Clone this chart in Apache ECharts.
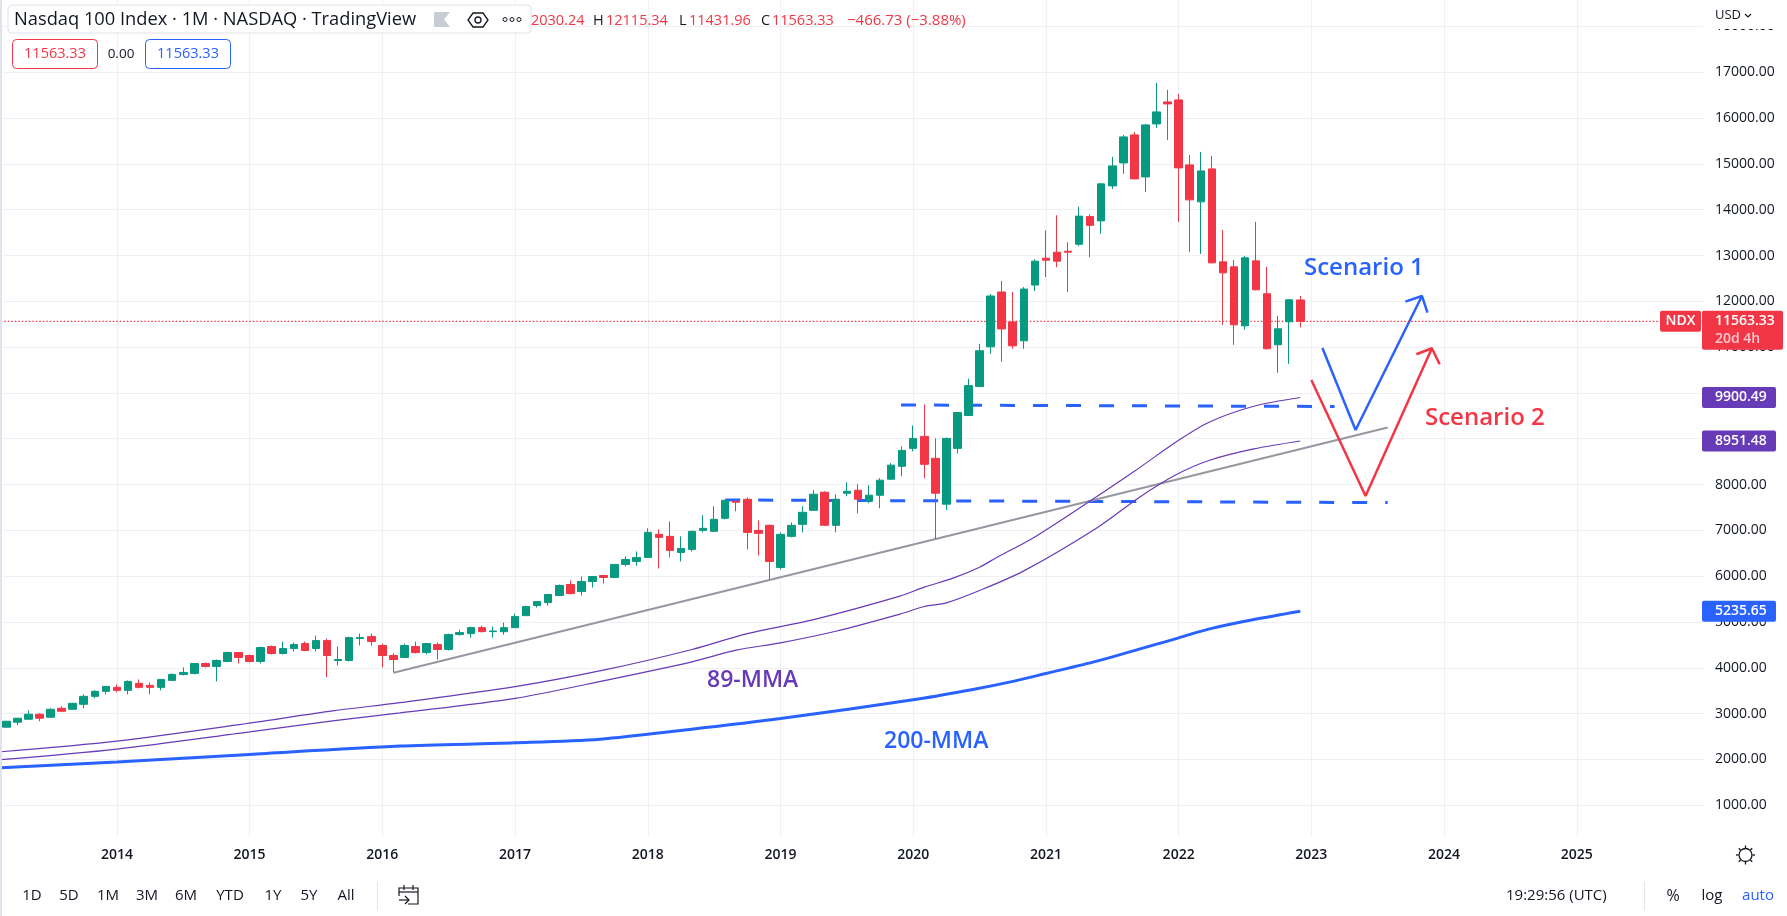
<!DOCTYPE html>
<html>
<head>
<meta charset="utf-8">
<title>Nasdaq 100 Index</title>
<script src="https://cdn.jsdelivr.net/npm/echarts@6/dist/echarts.min.js"></script>
<style>
html,body{margin:0;padding:0;background:#fff;}
#main{width:1787px;height:916px;}
</style>
</head>
<body>
<div id="main"></div>
<script>
// monthly candles, Mar 2013 - Dec 2022
const opens = [
2703,2812,2877,2986,2920,3116,3094,3203,3377,3486,
3573,3507,3660,3616,3573,3725,3855,3877,4094,4029,
4138,4333,4268,4138,4464,4312,4420,4529,4420,4594,
4159,4159,4638,4681,4486,4268,4225,4464,4333,4507,
4399,4725,4746,4877,4790,4788,4876,5139,5358,5423,
5577,5818,5664,5883,6015,5971,6256,6321,6409,6913,
6869,6518,6584,7000,6978,7263,7635,7679,7000,7110,
6190,6869,7132,7438,7832,7110,7810,7876,7635,7767,
8117,8399,8790,9051,8572,7572,8790,9507,10138,11007,
12203,11551,11138,12355,12942,13072,13094,13246,13850,13756,
14520,15022,15633,14716,15873,16353,16396,14978,14171,14891,
12862,12753,11465,12884,12164,11051,11553,12030.24];
const closes = [
2833,2899,2986,2899,3094,3051,3225,3377,3486,3594,
3507,3703,3573,3573,3746,3855,3899,4094,4029,4159,
4333,4225,4138,4442,4312,4420,4507,4377,4594,4268,
4181,4659,4659,4572,4268,4181,4486,4333,4529,4399,
4725,4768,4877,4790,4804,4876,5117,5336,5445,5599,
5796,5620,5883,5993,5971,6256,6365,6409,6956,6847,
6562,6606,6978,7044,7241,7657,7613,6956,6935,6321,
6913,7110,7394,7789,7110,7679,7854,7679,7767,8095,
8424,8746,9007,8442,7812,9007,9572,10159,10920,12116,
11398,11029,12268,12877,12898,12877,13072,13860,13659,14564,
14956,15589,14673,15851,16135,16309,14913,14215,14847,12840,
12622,11487,12949,12251,10964,11400,12033,11563.33];
const highs = [
2840,2905,3073,3007,3116,3160,3235,3420,3507,3600,
3638,3725,3746,3681,3755,3877,4007,4100,4116,4181,
4355,4340,4290,4464,4486,4572,4551,4572,4703,4638,
4464,4680,4746,4746,4529,4312,4529,4572,4535,4551,
4746,4833,4899,4920,4899,4985,5183,5358,5450,5605,
5818,5905,5993,6000,6020,6260,6431,6540,7044,7022,
7197,6869,6995,7329,7526,7665,7679,7723,7219,7125,
6956,7175,7526,7876,7854,7789,8051,8008,7986,8139,
8468,8833,9290,9746,9007,9029,9580,10311,11072,12159,
12442,12203,12311,12920,13550,13880,13290,14064,13900,14585,
15153,15633,15698,15873,16767,16615,16527,15196,15262,15175,
13560,12905,12993,13735,12753,11684,12040,12115.34];
const lows = [
2695,2747,2870,2833,2915,3045,3090,3116,3333,3420,
3464,3420,3551,3420,3507,3720,3833,3855,4007,3703,
4135,4094,4116,4094,4290,4290,4355,4370,4355,3790,
4051,4138,4486,4486,4007,3899,4220,4312,4290,4181,
4377,4703,4659,4768,4659,4723,4870,5135,5314,5358,
5570,5600,5577,5752,5840,5965,6212,6234,6400,6168,
6409,6321,6540,6956,6970,7241,7416,6584,6453,5927,
6146,6847,6956,7430,7100,6956,7745,7373,7592,7482,
8110,8181,8725,8138,6812,7442,8681,9500,10130,10855,
10681,10964,10964,12224,12529,12746,12203,13200,12964,13473,
14454,14782,14665,14389,15786,15524,13735,13080,13036,12830,
11487,11051,11378,12240,10950,10440,10636,11431.96];

const ma89a = [[-0.5,2167],[10,2399],[22,2790],[29.5,3058],[35.6,3239],[46,3587],[54.3,3964],[62,4399],[67,4746],[73,5051],[80.8,5564],[83,5760],[85.6,5956],[88,6196],[89.6,6415],[92.6,6800],[96.5,7403],[102,8291],[106,8967],[108.8,9367],[112.8,9709],[117,9900.49]];
const ma89b = [[-0.5,1993],[10,2225],[22,2602],[29.5,2841],[35.6,3015],[46,3333],[54.3,3732],[62,4130],[66,4384],[70,4544],[75,4797],[80.8,5171],[83,5338],[85,5418],[88,5687],[92,6116],[98.6,7054],[102.5,7730],[105.8,8218],[108.8,8531],[112.8,8778],[117,8951.48]];
const ma200 = [[-0.5,1819],[10,1942],[22,2109],[35.6,2290],[46,2362],[53.7,2442],[61.5,2645],[70,2891],[82.6,3326],[87.4,3527],[90.7,3687],[94,3876],[98.6,4145],[106,4654],[108.8,4850],[112.8,5054],[117,5235.65]];

// drawn lines
const trendLine = [[35,3893],[124.9,9246]];
const dashHigh = [[80.9,9737],[120.1,9704]];
const dashLow = [[65,7663],[124.9,7606]];
const scenario1 = [[119,10981],[122,9191],[128,12117]];
const scenario1Head = [[126.5,11992],[128,12117],[128.5,11752]];
const scenario2 = [[118,10283],[122.9,7751],[128.9,10975]];
const scenario2Head = [[127.5,10844],[128.9,10975],[129.6,10626]];

const lastPrice = 11563.33;
const tickPrices = [18000,17000,16000,15000,14000,13000,12000,11000,10000,9000,8000,7000,6000,5000,4000,3000,2000,1000];
const rangeButtons = ['1D','5D','1M','3M','6M','YTD','1Y','5Y','All'];
const rangeX = [32,69,108,147,186,230,273,309,346];

// 154 monthly slots up to Dec 2025
const months = [];
for (let i = 0; i < 154; i++) {
    let m = 2 + i;
    months.push((2013 + Math.floor(m / 12)) + '-' + String(m % 12 + 1).padStart(2, '0'));
}
const candles = opens.map((o, i) => [o, closes[i], lows[i], highs[i]]);
const isJan = (i) => months[i].endsWith('-01');

const UP = '#089981', DOWN = '#f23645', BLUE = '#2962ff', PURPLE = '#673ab7', GRID = '#eff0f3';
const FONT = '"Open Sans", sans-serif';

function overlay(data, color, width, type, smooth) {
    return {
        type: 'line', xAxisIndex: 1, yAxisIndex: 0, data: data, symbol: 'none', silent: true, z: 2,
        animation: false, smooth: smooth || false, lineStyle: {color: color, width: width, type: type || 'solid'}
    };
}

let chart = echarts.init(document.getElementById('main'));
let option = {
    animation: false,
    backgroundColor: '#fff',
    grid: {left: 0.77, top: 0, width: 1703.2, height: 837},
    xAxis: [
        {
            type: 'category', data: months, boundaryGap: true,
            axisLine: {show: false}, axisTick: {show: false},
            axisLabel: {
                interval: (i) => isJan(i), formatter: (v) => v.slice(0, 4), margin: 11,
                color: '#131722', fontFamily: FONT, fontSize: 14, fontWeight: 600
            },
            splitLine: {show: true, interval: (i) => isJan(i), alignWithLabel: true, lineStyle: {color: GRID, width: 1}}
        },
        {type: 'value', min: -0.5, max: 153.5, show: false}
    ],
    yAxis: {
        type: 'value', position: 'right', min: 306, max: 18578, splitNumber: 18, minInterval: 1000, maxInterval: 1000,
        axisLine: {show: false}, axisTick: {show: false},
        axisLabel: {
            align: 'left', margin: 11, showMinLabel: false, showMaxLabel: false, padding: [2, 0, 0, 0],
            formatter: (v) => tickPrices.includes(v) ? v.toFixed(2) : '',
            color: '#131722', fontFamily: FONT, fontSize: 14
        },
        splitLine: {show: true, showMinLine: false, showMaxLine: false, lineStyle: {color: GRID, width: 1}}
    },
    series: [
        overlay(dashLow, BLUE, 3, [15, 18]),
        overlay(dashHigh, BLUE, 3, [15, 18]),
        overlay(trendLine, '#9598a1', 2),
        overlay(ma200, BLUE, 3, null, 0.3),
        overlay(ma89a, PURPLE, 1.2, null, 0.3),
        overlay(ma89b, PURPLE, 1.2, null, 0.3),
        overlay(scenario1, BLUE, 2.5),
        overlay(scenario1Head, BLUE, 2.5),
        overlay(scenario2, DOWN, 2.5),
        overlay(scenario2Head, DOWN, 2.5),
        overlay([[-0.5, lastPrice], [153.5, lastPrice]], DOWN, 1.3, [1.5, 2]),
        {
            type: 'candlestick', xAxisIndex: 0, yAxisIndex: 0, data: candles, barWidth: 8, z: 5, silent: true,
            itemStyle: {color: UP, color0: DOWN, borderColor: UP, borderColor0: DOWN, borderWidth: 1}
        }
    ]
};
chart.setOption(option);

// ---- annotations and the TradingView chrome around the plot
function text(x, y, str, color, size, weight, align) {
    return {type: 'text', z: 30, style: {x: x, y: y, text: str, fill: color, font: (weight || 400) + ' ' + size + 'px ' + FONT, textAlign: align || 'left', textVerticalAlign: 'middle'}};
}
function box(x, y, w, h, fill, stroke, r) {
    return {type: 'rect', z: 20, shape: {x: x, y: y, width: w, height: h, r: r || 0}, style: {fill: fill, stroke: stroke || null, lineWidth: 1}};
}
function seg(x1, y1, x2, y2, color, w) {
    return {type: 'line', z: 30, shape: {x1: x1, y1: y1, x2: x2, y2: y2}, style: {stroke: color, lineWidth: w || 1}};
}
const yOf = (v) => chart.convertToPixel({yAxisIndex: 0}, v);

let els = [];
els.push(box(0, 0, 2, 916, '#e0e3eb'));
els.push(box(1703, 0, 84, 29, '#fff'));
els.push(text(1715, 15, 'USD', '#131722', 13));
els.push({type: 'polyline', z: 30, shape: {points: [[1745, 14], [1748, 17], [1751, 14]]}, style: {stroke: '#131722', lineWidth: 1.2, fill: null}});

// header
els.push(box(8, 5, 523, 28, '#fff', '#e0e3eb', 4));
els.push(text(14, 20, 'Nasdaq 100 Index · 1M · NASDAQ · TradingView', '#131722', 18.3));
els.push({type: 'polygon', z: 30, shape: {points: [[434, 12], [450, 12], [444, 19.5], [450, 27], [434, 27]]}, style: {fill: '#c8ccd3'}});
els.push({type: 'polygon', z: 30, shape: {points: [[473, 13], [483, 13], [488, 20], [483, 27], [473, 27], [468, 20]]}, style: {fill: '#fff', stroke: '#131722', lineWidth: 1.3}});
els.push({type: 'circle', z: 31, shape: {cx: 478, cy: 20, r: 3}, style: {fill: '#fff', stroke: '#131722', lineWidth: 1.3}});
[505, 512, 519].forEach(function (x) {
    els.push({type: 'circle', z: 30, shape: {cx: x, cy: 19.5, r: 2}, style: {fill: '#fff', stroke: '#131722', lineWidth: 1}});
});
els.push(text(531, 21, '2030.24', DOWN, 14.5));
els.push(text(593, 21, 'H', '#131722', 14.5));
els.push(text(606, 21, '12115.34', DOWN, 14.5));
els.push(text(679, 21, 'L', '#131722', 14.5));
els.push(text(689, 21, '11431.96', DOWN, 14.5));
els.push(text(761, 21, 'C', '#131722', 14.5));
els.push(text(772, 21, '11563.33', DOWN, 14.5));
els.push(text(847, 21, '−466.73 (−3.88%)', DOWN, 15));
els.push(box(12.5, 39.5, 85, 29, '#fff', DOWN, 4));
els.push(text(55, 54, '11563.33', DOWN, 14.5, 400, 'center'));
els.push(text(121, 54, '0.00', '#131722', 13.5, 400, 'center'));
els.push(box(145.5, 39.5, 85, 29, '#fff', BLUE, 4));
els.push(text(188, 54, '11563.33', BLUE, 14.5, 400, 'center'));

// notes on the plot
els.push(text(1304, 268, 'Scenario 1', BLUE, 24, 600));
els.push(text(1425, 418, 'Scenario 2', DOWN, 24, 600));
els.push(text(707, 680, '89-MMA', PURPLE, 23, 600));
els.push(text(884, 741, '200-MMA', BLUE, 23, 600));

// price tags on the axis
[[9900.49, PURPLE], [8951.48, PURPLE], [5235.65, BLUE]].forEach(function (t) {
    let y = yOf(t[0]);
    els.push(box(1702, y - 10.5, 74, 21, t[1], null, 2));
    els.push(text(1715, y, t[0].toFixed(2), '#fff', 14, 600));
});
let py = yOf(lastPrice);
els.push(box(1660, py - 10.5, 41, 21, DOWN, null, 2));
els.push(text(1680.5, py, 'NDX', '#fff', 14, 600, 'center'));
els.push(box(1702, py - 10.5, 81, 39, DOWN, null, 2));
els.push(text(1715, py, lastPrice.toFixed(2), '#fff', 14, 600));
els.push(text(1715, py + 18, '20d 4h', '#fcc8cd', 14, 600));

// bottom toolbar
rangeButtons.forEach(function (b, i) {
    els.push(text(rangeX[i], 896, b, '#131722', 15, 400, 'center'));
});
els.push(seg(377.5, 882, 377.5, 910, '#e0e3eb'));
els.push({type: 'polyline', z: 30, shape: {points: [[399, 896], [399, 888], [418, 888], [418, 904], [408, 904]]}, style: {stroke: '#131722', lineWidth: 1.2, fill: null}});
els.push(seg(399, 892, 418, 892, '#131722', 1.2));
els.push(seg(404, 885, 404, 890, '#131722', 1.2));
els.push(seg(413, 885, 413, 890, '#131722', 1.2));
els.push(seg(399, 900, 409, 900, '#131722', 1.2));
els.push({type: 'polyline', z: 30, shape: {points: [[405, 896], [409, 900], [405, 904]]}, style: {stroke: '#131722', lineWidth: 1.2, fill: null}});
els.push(text(1506, 896, '19:29:56 (UTC)', '#131722', 15));
els.push(seg(1644.5, 882, 1644.5, 910, '#e0e3eb'));
els.push(text(1673, 896, '%', '#131722', 16, 400, 'center'));
els.push(text(1712, 896, 'log', '#131722', 15, 400, 'center'));
els.push(text(1758, 896, 'auto', BLUE, 15, 400, 'center'));

// settings icon
els.push({type: 'circle', z: 30, shape: {cx: 1745.5, cy: 855, r: 6.5}, style: {fill: '#fff', stroke: '#131722', lineWidth: 1.3}});
for (let a = 0; a < 8; a++) {
    let c = Math.cos(a * Math.PI / 4), s = Math.sin(a * Math.PI / 4);
    els.push(seg(1745.5 + 7 * c, 855 + 7 * s, 1745.5 + 9.5 * c, 855 + 9.5 * s, '#131722', 1.3));
}
chart.setOption({graphic: {elements: els}});
</script>
</body>
</html>
